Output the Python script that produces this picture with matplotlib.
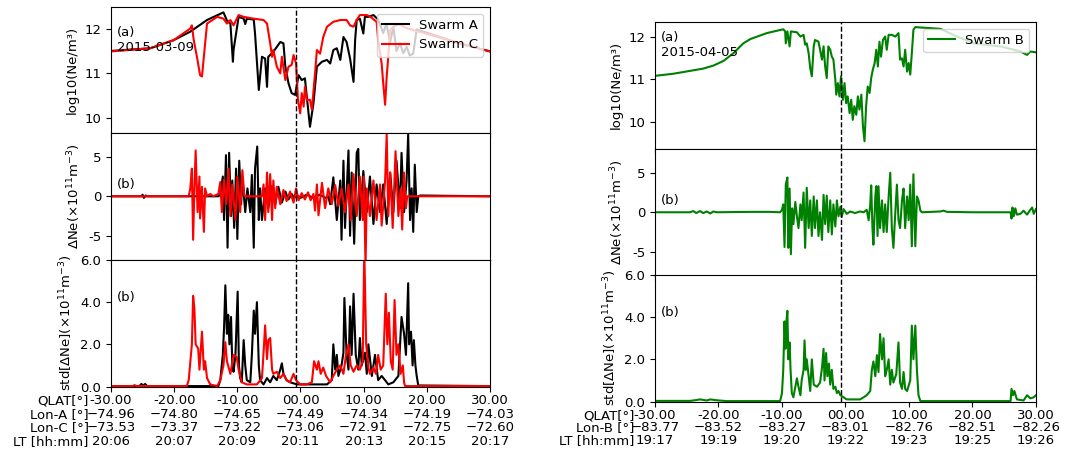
import matplotlib
matplotlib.use("Agg")
import matplotlib.pyplot as plt

plt.rcParams['font.size'] = 9.5
plt.rcParams['axes.unicode_minus'] = False

# ---------------- data ----------------
# left: 2015-03-09, Swarm A (black) and Swarm C (red)
a_ne_q = [-30, -23.8, -20.1, -17.45, -14.8, -12.2, -11.65, -11.1, -10.7, -10.6, -9.8, -9.0, -8.75, -8.5,
          -7.4, -7.2, -6.6, -6.1, -5.6, -5.3, -5.1, -4.3, -3.75, -3.2, -2.7, -2.4, -1.9, -1.4, -0.85,
          -0.3, 0.2, 0.7, 1.0, 1.5, 2.05, 2.6, 3.4, 4.2, 4.7, 5.2, 5.75, 6.3, 6.8, 7.3, 7.85, 8.4, 8.65,
          8.9, 9.4, 9.95, 10.2, 10.75, 11.55, 12.3, 13.1, 13.6, 14.2, 14.7, 15.2, 15.75, 16.3, 16.8,
          17.3, 17.85, 18.4, 21, 24, 27, 30]
a_ne = [11.50, 11.56, 11.74, 11.93, 12.19, 12.36, 12.18, 12.11, 11.26, 11.52, 12.26, 12.22, 12.10, 12.22,
        12.20, 11.89, 10.63, 11.37, 11.33, 10.70, 11.37, 11.48, 11.59, 11.70, 11.67, 11.15, 10.78, 10.56, 10.52,
        10.96, 10.85, 10.89, 10.48, 9.81, 10.33, 11.15, 11.26, 11.30, 11.22, 11.52, 11.56, 11.30, 11.81, 11.70,
        11.33, 10.81, 11.74, 12.19, 12.22, 11.89, 12.26, 12.26, 12.30, 12.20, 11.90, 12.10, 11.70, 12.04,
        11.50, 11.67, 11.45, 11.59, 11.40, 11.44, 11.98, 11.86, 11.72, 11.60, 11.49]
c_ne_q = [-30, -23.8, -20.1, -17.45, -17.2, -16.9, -16.4, -15.9, -15.6, -15.2, -14.8, -13.2, -12.2, -11.65,
          -11.1, -10.6, -9.8, -9.0, -7.4, -5.85, -5.3, -4.8, -4.5, -4.3, -3.75, -3.2, -2.95, -2.4, -1.9,
          -1.4, -1.1, -0.7, -0.4, -0.05, 0.2, 0.5, 0.7, 1.0, 1.5, 1.8, 2.3, 2.6, 3.1, 3.6, 4.2, 5.2, 6.3,
          7.3, 7.85, 8.4, 8.9, 9.4, 10.5, 11.0, 12.05, 12.3, 12.85, 13.1, 13.4, 13.65, 13.9, 14.2, 14.7,
          15.5, 17, 20, 24, 27, 30]
c_ne = [11.49, 11.56, 11.74, 12.00, 12.07, 11.74, 11.37, 10.96, 10.93, 11.52, 12.11, 12.26, 12.22, 12.11,
        12.19, 12.07, 12.30, 12.26, 12.22, 12.19, 12.11, 11.67, 11.37, 11.52, 11.15, 11.00, 11.37, 10.85, 11.15,
        11.19, 11.41, 11.22, 10.41, 10.11, 10.56, 10.26, 10.70, 10.41, 10.41, 10.19, 11.00, 11.52, 11.44, 11.81,
        12.04, 12.15, 12.19, 12.19, 12.07, 12.04, 12.19, 12.30, 12.30, 12.27, 12.15, 11.74, 11.22, 10.78,
        10.30, 10.93, 11.37, 11.96, 12.04, 12.10, 12.00, 11.88, 11.72, 11.60, 11.49]

a_dne_q = [-30, -25.2, -25.0, -24.8, -24.5, -24.3, -13.0, -12.7, -12.3, -12.1, -11.8, -11.55, -11.3, -11.0,
           -10.8, -10.5, -10.2, -10.0, -9.7, -9.4, -9.2, -8.75, -8.4, -7.95, -7.7, -7.4, -7.2, -6.85, -6.6,
           -6.4, -6.1, -5.6, -5.1, -4.5, -4.0, -3.5, -2.95, -2.4, -1.9, -1.4, -1.0, -0.5, 0, 1, 2, 3, 4, 4.4,
           4.7, 5.2, 5.75, 6.3, 6.5, 6.8, 7.05, 7.6, 7.85, 8.1, 8.5, 8.9, 9.15, 9.4, 9.95, 10.5, 11.0, 11.55,
           12.05, 12.6, 13.1, 13.65, 14.2, 14.7, 15.2, 15.75, 16.0, 16.4, 16.8, 17.05, 17.35, 17.6, 17.85,
           18.1, 18.4, 18.65, 19, 30]
a_dne = [0, 0, 0.2, -0.2, 0.1, 0, 0, 0.2, 2.5, -3.0, 5.2, -6.5, 5.5, -2.5,
         2.0, -4.0, 3.5, -5.4, 4.5, -1.0, 2.4, -2.0, 1.0, -2.0, 2.7, -6.5, 3.5, 6.3, -3.0,
         1.0, -3.0, 1.0, -1.5, 1.3, -1.0, 1.2, -0.8, 0.6, -0.4, 0.3, -0.2, 0.1, -0.2, 0.2, -0.2, 0.2, -0.2, 0,
         -1.0, 2.4, -3.0, 2.0, -5.5, 4.5, -4.0, 5.8, -5.0, 3.0, -6.0, 5.5, 6.0, -3.0, 3.2, -2.0, 2.5, -3.5,
         1.5, -2.0, 1.5, -3.5, 3.0, -2.0, 4.5, -1.5, 5.5, -2.0, 2.0, 7.8, -3.0, 1.0, -4.5,
         4.0, -2.0, 0, 0.1, 0]
c_dne_q = [-30, -17.7, -17.45, -17.2, -17.0, -16.8, -16.6, -16.3, -16.0, -15.9, -15.6, -15.3, -15.1, -14.8,
           -14.3, -13.8, -13.0, -12.7, -12.45, -12.1, -11.75, -11.4, -11.1, -10.8, -10.3, -10.0, -9.55, -9.2,
           -8.9, -8.5, -6.1, -5.85, -5.6, -5.3, -5.1, -4.8, -4.5, -4.3, -4.0, -3.75, -3.2, -2.7, -2.2, -1.65,
           -1.1, -0.7, -0.3, 0.2, 0.7, 1.2, 1.6, 2.05, 2.3, 2.6, 2.85, 3.4, 3.9, 4.4, 4.95, 5.5, 6.0, 6.5,
           7.05, 7.6, 7.95, 8.4, 8.9, 9.4, 9.85, 10.05, 10.3, 10.5, 11.0, 11.55, 12.05, 12.6, 12.85, 13.4,
           13.65, 13.9, 14.2, 14.6, 15.05, 15.5, 15.85, 16.1, 16.4, 16.7, 16.9, 30]
c_dne = [0, 0, 1.0, 3.5, -5.5, 1.0, 5.8, -2.0, 2.5, -2.8, 1.2, -4.5, 1.0, 0,
         0.3, 0, 0.3, 1.8, -2.0, 2.1, -1.0, 3.5, -2.5, 1.5, -3.0, 2.5, -2.0, 3.3,
         0.1, 0, 0, 1.5, -3.0, 3.0, -2.0, 2.8, -3.0, 2.0, -1.5, 1.2, -1.0, 0.8, -0.6, 0.6,
         -0.8, 1.0, -0.5, 0.4, -0.4, 0.5, -0.5, 0.3, -1.8, 1.5, -2.4, 1.7, -1.5, 1.0, -1.0, 1.4, -1.2, 1.0,
         -2.0, 1.5, -3.0, 2.8, -2.5, 2.5, -3.0, 2.5, -9.0, 1.0, -2.5, 2.0, -3.0, 1.5, -3.7, 2.0,
         7.9, -2.5, 3.0, -4.0, 5.7, -2.5, 1.0, -4.2, 3.0, -1.5, 0, 0]

a_std_q = [-30, -25.5, -25.2, -24.9, -24.6, -24.3, -13.0, -12.7, -12.3, -12.1, -11.9, -11.65, -11.45, -11.25,
           -11.0, -10.8, -10.6, -10.3, -9.95, -9.75, -9.55, -9.3, -9.0, -8.75, -8.5, -7.95, -7.7, -7.4, -7.2,
           -6.9, -6.6, -6.4, -5.85, -5.3, -4.8, -4.3, -3.75, -3.2, -2.95, -2.7, -2.2, -1.65, -1.1, -0.6, 3.1,
           4.2, 4.95, 5.2, 5.5, 5.75, 6.0, 6.5, 6.8, 6.95, 7.3, 7.6, 7.85, 8.1, 8.4, 8.75, 9.15, 9.4, 9.7,
           10.2, 10.5, 10.75, 11.3, 11.8, 12.3, 12.85, 13.4, 13.9, 14.7, 15.5, 16.0, 16.4, 16.7, 17.05, 17.2,
           17.5, 17.75, 17.95, 18.2, 18.4, 18.65, 30]
a_std = [0.02, 0.02, 0.12, 0.05, 0.12, 0.02, 0.02, 0.3, 1.5, 2.8, 4.8, 2.5, 3.4, 2.0,
         3.3, 1.0, 0.7, 1.5, 4.5, 1.0, 0.4, 0.2, 2.2, 1.0, 0.3, 0.2, 1.5, 3.6, 2.5,
         4.0, 1.0, 0.3, 0.1, 0.4, 0.2, 0.5, 0.3, 0.8, 1.1, 0.6, 0.3, 0.2, 0.15, 0.1, 0.1,
         0.1, 0.3, 2.0, 0.8, 1.5, 0.5, 1.0, 1.6, 4.2, 1.5, 0.8, 3.8, 1.5, 4.4, 1.5, 0.8, 2.3, 1.0,
         1.6, 0.6, 2.0, 0.5, 1.5, 0.3, 0.5, 0.3, 0.1, 0.2, 0.5, 3.3, 2.5, 1.5, 4.9, 2.0,
         2.6, 1.0, 2.2, 1.0, 0.5, 0.05, 0.02]
c_std_q = [-30, -26.5, -26.3, -26.0, -18.0, -17.7, -17.2, -17.0, -16.8, -16.6, -16.2, -16.0, -15.6, -15.3,
           -15.1, -14.8, -14.3, -13.2, -12.7, -12.2, -11.9, -11.65, -11.1, -10.6, -10.1, -9.8, -9.3, -8.5,
           -6.9, -6.1, -5.85, -5.6, -5.3, -5.1, -4.8, -4.5, -4.3, -3.75, -3.2, -2.7, -2.2, -1.65, -1.1, -0.7,
           -0.05, 1.0, 1.8, 2.15, 2.6, 2.85, 3.2, 3.6, 4.05, 4.7, 5.2, 5.75, 6.3, 6.8, 7.2, 7.6, 7.95, 8.4,
           8.9, 9.4, 9.85, 10.1, 10.4, 10.75, 11.0, 11.55, 11.95, 12.3, 12.7, 13.1, 13.5, 13.75, 14.0, 14.3,
           14.6, 14.9, 15.2, 15.5, 15.85, 16.2, 16.4, 16.55, 30]
c_std = [0.02, 0.02, 0.07, 0.02, 0.02, 0.3, 2.0, 4.3, 3.7, 2.0, 1.8, 0.8, 2.6, 0.8,
         1.2, 0.4, 0.1, 0.02, 0.3, 1.0, 2.1, 1.2, 0.6, 1.5, 1.4, 0.8, 0.2, 0.1,
         0.1, 0.4, 1.6, 2.9, 1.3, 2.2, 2.3, 0.8, 0.6, 0.7, 0.4, 0.6, 0.3, 0.2, 0.6, 0.3,
         0.1, 0.1, 0.2, 1.2, 0.8, 1.2, 0.6, 0.9, 0.5, 0.2, 0.5, 0.8, 1.0, 0.6, 1.5, 2.0, 1.0, 0.7,
         1.0, 0.8, 1.2, 6.5, 2.0, 0.9, 0.6, 0.9, 0.6, 1.5, 0.8, 1.0, 4.4, 2.0, 3.5, 1.2,
         0.8, 4.1, 1.5, 2.0, 0.6, 1.0, 0.2, 0.02, 0.02]

# right: 2015-04-05, Swarm B (green)
b_ne_q = [-30, -27.1, -23.95, -22.4, -20.8, -19.2, -17.65, -16.1, -15.0, -12.4, -9.8, -9.5, -9.4, -9.15,
          -8.8, -8.6, -7.65, -7.1, -6.6, -6.35, -6.1, -5.8, -5.55, -5.3, -5.0, -4.8, -4.25, -4.0, -3.7,
          -3.45, -3.2, -2.95, -2.7, -2.4, -2.15, -1.9, -1.6, -1.45, -1.2, -0.95, -0.7, -0.4, -0.15, 0.1,
          0.35, 0.65, 0.9, 1.15, 1.4, 1.7, 1.95, 2.2, 2.5, 2.75, 3.0, 3.25, 3.5, 3.8, 4.05, 4.3, 4.6, 4.85,
          5.1, 5.35, 5.6, 5.9, 6.25, 6.5, 6.8, 7.3, 7.85, 8.35, 8.6, 8.9, 9.15, 9.4, 9.7, 9.95, 10.2, 10.45,
          10.7, 11.0, 14.95, 17.55, 20.2, 24.4, 26.5, 27.55, 28.6, 29.1, 30]
b_ne = [11.08, 11.13, 11.21, 11.25, 11.32, 11.43, 11.61, 11.84, 11.94, 12.08, 12.17, 12.12, 11.84, 12.12,
        11.77, 12.12, 12.10, 12.00, 12.04, 11.81, 11.84, 11.61, 11.26, 11.07, 11.77, 11.92, 11.88, 11.69, 11.46,
        11.77, 11.30, 11.03, 11.77, 11.69, 11.53, 11.46, 10.99, 10.64, 10.91, 10.60, 11.07, 10.52, 10.91, 10.44,
        10.60, 10.21, 10.52, 10.05, 10.37, 10.17, 10.60, 10.29, 10.64, 9.90, 9.55, 10.37, 10.83, 10.68, 11.03,
        11.22, 11.38, 11.69, 11.30, 11.88, 11.53, 11.92, 12.00, 11.69, 12.04, 12.04, 12.00, 12.08, 11.46, 11.49,
        11.30, 11.69, 11.18, 11.38, 11.11, 11.61, 12.16, 12.22, 12.18, 12.00, 11.84, 11.77, 11.69, 11.65, 11.57,
        11.65, 11.63]

b_dne_q = [-30, -24.5, -23.95, -23.5, -22.9, -22.4, -21.85, -21.3, -20.8, -20.3, -15, -12, -10.3, -10.0, -9.8,
           -9.6, -9.4, -9.15, -9.0, -8.8, -8.6, -8.4, -8.2, -7.9, -7.65, -7.4, -7.1, -6.9, -6.6, -6.35, -6.1,
           -5.8, -5.55, -5.3, -5.0, -4.8, -4.5, -4.25, -4.0, -3.7, -3.45, -3.2, -2.95, -2.7, -2.4, -2.15,
           -1.9, -1.6, -1.35, -1.1, -0.8, -0.6, -0.3, 0.2, 0.75, 1.5, 2.3, 2.85, 3.35, 3.65, 3.9, 4.05, 4.25,
           4.4, 4.7, 4.85, 5.05, 5.2, 5.45, 5.75, 6.0, 6.25, 6.5, 6.8, 7.05, 7.3, 7.55, 7.85, 8.1, 8.35, 8.6,
           8.9, 9.15, 9.4, 9.7, 9.95, 10.2, 10.45, 10.7, 11.0, 11.25, 11.5, 11.8, 12.05, 14.95, 15.45, 16.0,
           20, 26.0, 26.15, 26.3, 26.5, 26.75, 27.0, 27.55, 28.05, 28.6, 29.1, 29.4, 29.65, 30]
b_dne = [0, 0, 0.15, -0.1, 0.15, -0.1, 0.1, -0.15, 0.1, 0, 0.05, 0.05, 0, 0.3, 1.0,
         -4.4, 3.5, 4.4, -4.5, 3.0, -5.3, 0.5, -1.5, 1.3, -0.5, -2.0, 1.0, -1.0, 2.5, -4.5, 3.1,
         -2.0, 1.5, -3.0, 2.0, -2.0, 1.5, -3.0, 0, -3.5, 2.2, -1.5, 2.1, -2.5, 1.5, -2.8,
         1.0, -1.8, 1.5, -0.5, 0.7, -0.6, 0.4, -0.2, 0.1, -0.1, 0.1, 0, 0.3, -1.0, 1.0, 3.4, -2.0,
         -4.1, 2.0, 3.3, -3.0, 3.3, -2.0, 1.5, -2.5, 1.0, -2.5, 2.0, 5.0, -2.0, -4.5, 0, 3.5, -1.0, -2.0,
         1.5, 3.0, -2.0, 2.0, -1.0, 3.5, -4.3, 4.8, -4.3, 2.0, 1.5, 0.2, 0, 0.1, 0.2, 0.05,
         0, 0, -0.8, 0.6, -0.5, 0.5, -0.3, -0.2, 0.2, -0.3, 0.3, 0.6, -0.2, 0.4]

b_std_q = [-30, -24.5, -23.95, -22.9, -21.85, -21.3, -20.3, -18.7, -10.3, -10.0, -9.8, -9.6, -9.45, -9.3,
           -9.15, -9.0, -8.8, -8.65, -8.45, -8.2, -7.65, -7.4, -7.1, -6.9, -6.6, -6.45, -6.25, -6.1, -5.8,
           -5.55, -5.3, -5.0, -4.5, -4.0, -3.7, -3.45, -3.3, -3.05, -2.85, -2.6, -2.4, -2.15, -1.9, -1.6,
           -1.35, -1.1, -0.8, -0.3, 0.2, 1.25, 2.3, 2.85, 3.35, 3.9, 4.15, 4.4, 4.7, 4.95, 5.2, 5.45, 5.75,
           6.0, 6.25, 6.5, 6.8, 7.05, 7.3, 7.55, 8.0, 8.35, 8.6, 8.9, 9.15, 9.4, 9.7, 10.2, 10.45, 10.7, 11.0,
           11.25, 11.5, 11.8, 26.0, 26.15, 26.4, 26.6, 27.0, 28.05, 28.6, 29.1, 29.65, 30]
b_std = [0.03, 0.03, 0.05, 0.1, 0.05, 0.1, 0.06, 0.02, 0.02, 0.4, 1.5, 3.8, 2.5, 3.8,
         4.3, 2.0, 2.8, 1.5, 0.4, 0.2, 1.1, 0.7, 0.3, 1.0, 1.5, 2.9, 1.5, 2.0, 1.2,
         0.5, 2.0, 0.8, 0.7, 0.9, 1.6, 2.5, 1.0, 2.3, 1.2, 1.8, 0.8, 1.5, 0.6, 0.7,
         0.4, 0.5, 0.3, 0.2, 0.1, 0.1, 0.1, 0.2, 0.3, 0.5, 1.5, 1.9, 1.2, 2.2, 1.4, 3.2, 2.0,
         3.0, 1.2, 1.5, 2.0, 0.8, 1.5, 0.9, 1.3, 2.8, 0.9, 0.6, 1.4, 0.6, 0.5, 1.0, 3.6, 2.0, 3.6,
         1.5, 0.3, 0.02, 0.02, 0.6, 0.3, 0.5, 0.1, 0.05, 0.3, 0.15, 0.2, 0.3]

# bottom axis tick label rows
qlat_ticks = [-30, -20, -10, 0, 10, 20, 30]
qlat_labels = ['-30.00', '-20.00', '-10.00', '00.00', '10.00', '20.00', '30.00']
lon_a = ['−74.96', '−74.80', '−74.65', '−74.49', '−74.34', '−74.19', '−74.03']
lon_c = ['−73.53', '−73.37', '−73.22', '−73.06', '−72.91', '−72.75', '−72.60']
lt_ac = ['20:06', '20:07', '20:09', '20:11', '20:13', '20:15', '20:17']
lon_b = ['−83.77', '−83.52', '−83.27', '−83.01', '−82.76', '−82.51', '−82.26']
lt_b = ['19:17', '19:19', '19:20', '19:22', '19:23', '19:25', '19:26']

dash_q = -0.7

# ---------------- figure ----------------
fig = plt.figure(figsize=(10.78, 4.51), dpi=100)


def make_column(left, width, tops, h):
    ax1 = fig.add_axes([left, tops[0] - h, width, h])
    ax2 = fig.add_axes([left, tops[1] - h, width, h], sharex=ax1)
    ax3 = fig.add_axes([left, tops[2] - h, width, h], sharex=ax1)
    for ax in (ax1, ax2):
        ax.tick_params(labelbottom=False)
    return ax1, ax2, ax3


h = 0.2805
L = make_column(0.103, 0.3515, [0.9845, 0.705, 0.4235], h)
R = make_column(0.6076, 0.3534, [0.9512, 0.6696, 0.3902], h)

dlab = 'ΔNe(×10$^{11}$m$^{-3}$)'
slab = 'std[ΔNe](×10$^{11}$m$^{-3}$)'

# left column
L[0].plot(a_ne_q, a_ne, color='k', label='Swarm A')
L[0].plot(c_ne_q, c_ne, color='red', label='Swarm C')
L[0].set_ylim(9.66, 12.48)
L[0].text(-29, 11.75, '(a)\n2015-03-09', va='center')
L[1].plot(a_dne_q, a_dne, color='k')
L[1].plot(c_dne_q, c_dne, color='red')
L[2].plot(a_std_q, a_std, color='k')
L[2].plot(c_std_q, c_std, color='red')

# right column
R[0].plot(b_ne_q, b_ne, color='green', label='Swarm B')
R[0].set_ylim(9.38, 12.34)
R[0].text(-29, 11.8, '(a)\n2015-04-05', va='center')
R[1].plot(b_dne_q, b_dne, color='green')
R[2].plot(b_std_q, b_std, color='green')

for col in (L, R):
    col[0].set_ylabel('log10(Ne/m³)')
    col[0].set_yticks([10, 11, 12])
    col[0].legend(loc='upper right')
    col[1].set_ylim(-8, 8)
    col[1].set_yticks([-5, 0, 5])
    col[1].set_ylabel(dlab)
    col[1].text(-29, 1.5, '(b)', va='center')
    col[2].set_ylim(0, 6)
    col[2].set_yticks([0, 2, 4, 6])
    col[2].set_yticklabels(['0.0', '2.0', '4.0', '6.0'])
    col[2].set_ylabel(slab)
    col[2].text(-29, 4.2, '(b)', va='center')
    col[2].tick_params(axis='x', pad=2)
    col[0].set_xlim(-30, 30)
    for ax in col:
        ax.axvline(dash_q, color='k', ls='--', lw=1)

L[2].set_xticks(qlat_ticks)
L[2].set_xticklabels([f'{q}\n{a}\n{c}\n{t}' for q, a, c, t in zip(qlat_labels, lon_a, lon_c, lt_ac)],
                     linespacing=1.05)
L[2].annotate('QLAT[°]\nLon-A [°]\nLon-C [°]\nLT [hh:mm]', xy=(0, 0), xycoords='axes fraction',
              xytext=(-16, -5.5), textcoords='offset points', ha='right', va='top', linespacing=1.05)

R[2].set_xticks(qlat_ticks)
R[2].set_xticklabels([f'{q}\n{b}\n{t}' for q, b, t in zip(qlat_labels, lon_b, lt_b)], linespacing=0.92)
R[2].annotate('QLAT[°]\nLon-B [°]\nLT [hh:mm]', xy=(0, 0), xycoords='axes fraction',
              xytext=(-15, -5.5), textcoords='offset points', ha='right', va='top', linespacing=0.92)

fig.savefig('out.png', dpi=100)
